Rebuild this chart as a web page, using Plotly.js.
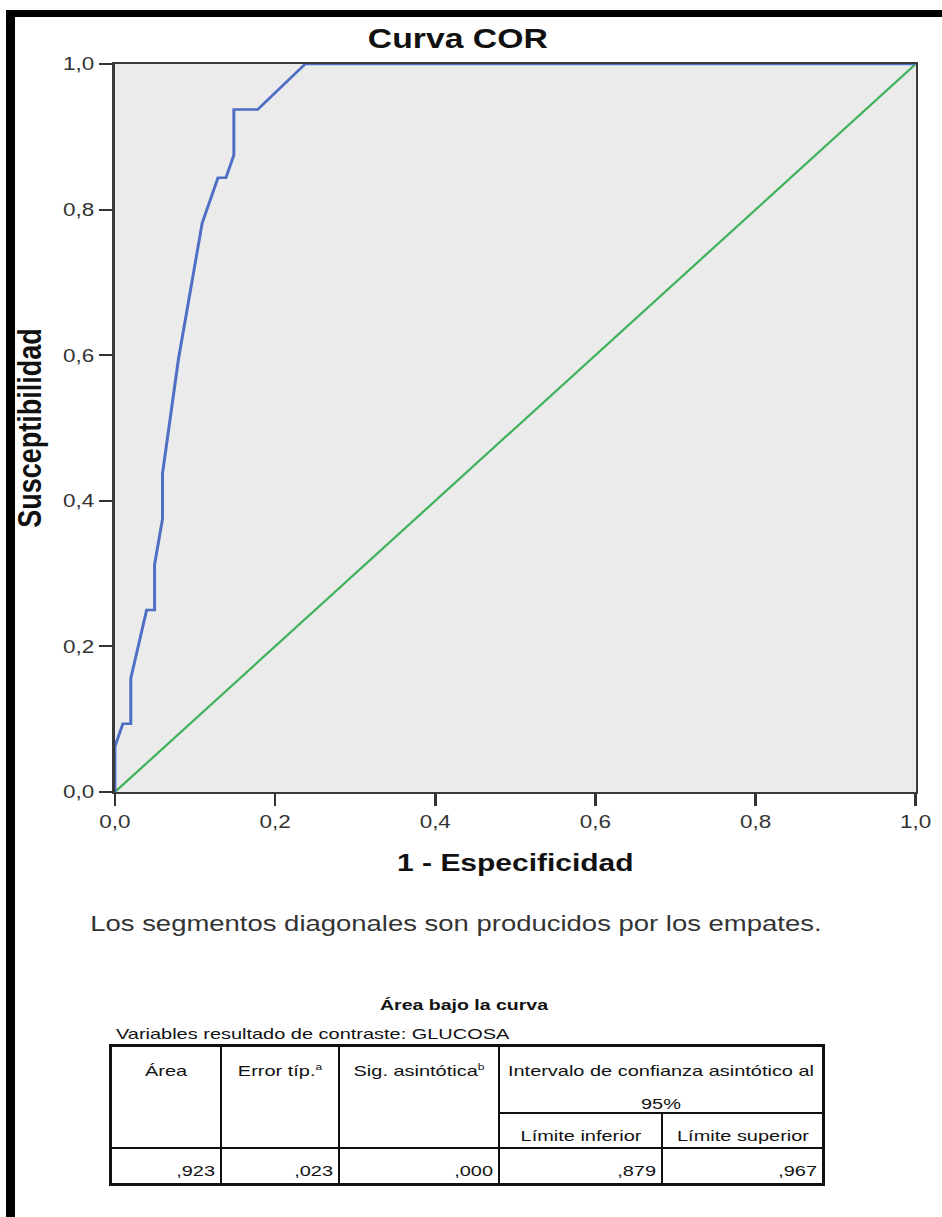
<!DOCTYPE html>
<html>
<head>
<meta charset="utf-8">
<script src="https://cdn.plot.ly/plotly-3.0.1.min.js"></script>
<style>
html,body{margin:0;padding:0;background:#fff;width:942px;height:1217px;overflow:hidden;}
#wrap{position:absolute;left:0;top:0;width:754px;height:1217px;transform:scaleX(1.2493);transform-origin:0 0;}
#chart{width:754px;height:1217px;}
.bar{position:absolute;background:#000;}
.ln{position:absolute;background:#111;}
.tx{position:absolute;white-space:nowrap;font-family:"Liberation Sans",Arial,sans-serif;font-size:15px;color:#111;line-height:1;}
.tx sup{font-size:9px;vertical-align:6px;}
</style>
</head>
<body>
<div id="wrap"><div id="chart"></div></div>
<div id="frameTop" class="bar" style="left:6px;top:10px;width:936px;height:7px;"></div>
<div id="frameLeft" class="bar" style="left:6px;top:10px;width:9px;height:1207px;"></div>
<div id="table"></div>
<script>
// ---------- data ----------
const fpr = [0, 0, 0.0099, 0.0198, 0.0198, 0.0396, 0.0495, 0.0495, 0.0594, 0.0594, 0.0792, 0.1089, 0.1287, 0.1386, 0.1485, 0.1485, 0.1782, 0.2376, 1];
const tpr = [0, 0.0625, 0.09375, 0.09375, 0.15625, 0.25, 0.25, 0.3125, 0.375, 0.4375, 0.59375, 0.78125, 0.84375, 0.84375, 0.875, 0.9375, 0.9375, 1, 1];
const refX = [0, 1];
const refY = [0, 1];
const tickVals = [0, 0.2, 0.4, 0.6, 0.8, 1.0];
const tickText = ['0,0', '0,2', '0,4', '0,6', '0,8', '1,0'];
const chartTitle = 'Curva COR';
const xTitle = '1 - Especificidad';
const yTitle = 'Susceptibilidad';
const noteText = 'Los segmentos diagonales son producidos por los empates.';

const tableTitle = 'Área bajo la curva';
const tableSubtitle = 'Variables resultado de contraste: GLUCOSA';
const headArea = 'Área';
const headErr = 'Error típ.<sup>a</sup>';
const headSig = 'Sig. asintótica<sup>b</sup>';
const headCI = 'Intervalo de confianza asintótico al';
const headCI2 = '95%';
const headLow = 'Límite inferior';
const headUp = 'Límite superior';
const rowValues = [',923', ',023', ',000', ',879', ',967'];

// ---------- chart ----------
const FONT = 'Liberation Sans, Arial, Helvetica, sans-serif';
const traces = [
  {x: refX, y: refY, type: 'scatter', mode: 'lines', line: {color: '#3fb35c', width: 2}, hoverinfo: 'skip'},
  {x: fpr, y: tpr, type: 'scatter', mode: 'lines', line: {color: '#4f6fc4', width: 2.4}, hoverinfo: 'skip'}
];
const axisCommon = {
  range: [0, 1], tickvals: tickVals, ticktext: tickText,
  ticks: 'outside', tickwidth: 2, tickcolor: '#333',
  showline: true, linecolor: '#3a3a3a', linewidth: 2, mirror: true,
  showgrid: false, zeroline: false, fixedrange: true,
  tickfont: {family: FONT, size: 18, color: '#333'}
};
const layout = {
  width: 754, height: 1217,
  margin: {l: 92, r: 21, t: 64, b: 425, pad: 0},
  paper_bgcolor: 'rgba(0,0,0,0)', plot_bgcolor: '#ebebeb',
  showlegend: false,
  font: {family: FONT, color: '#000'},
  title: {text: '<b>' + chartTitle + '</b>', font: {family: FONT, size: 27, color: '#111'},
          xref: 'container', x: 0.486, xanchor: 'center', yref: 'container', y: 1 - 39/1217, yanchor: 'middle'},
  xaxis: Object.assign({}, axisCommon, {ticklen: 12,
          title: {text: '<b>' + xTitle + '</b>', font: {family: FONT, size: 24, color: '#111'}, standoff: 24}}),
  yaxis: Object.assign({}, axisCommon, {ticklen: 11,
          title: {text: '<b>' + yTitle + '</b>', font: {family: FONT, size: 27, color: '#111'}, standoff: 9}}),
  annotations: [{
    text: noteText, xref: 'paper', yref: 'paper', x: (365.4 - 92) / 641, y: (792 - 923) / 728,
    xanchor: 'center', yanchor: 'middle', showarrow: false,
    font: {family: FONT, size: 22, color: '#333'}
  }]
};
Plotly.newPlot('chart', traces, layout, {displayModeBar: false, staticPlot: true});

// ---------- table (screen pixel geometry) ----------
const T = document.getElementById('table');
const colX = [110, 221, 339, 499, 662, 823];
const rowY = [1045, 1113, 1148, 1184];
function line(l, t, w, h) {
  const d = document.createElement('div'); d.className = 'ln';
  d.style.left = l + 'px'; d.style.top = t + 'px'; d.style.width = w + 'px'; d.style.height = h + 'px';
  T.appendChild(d);
}
function text(html, x, y, anchor, k, bold) {
  const s = document.createElement('span'); s.className = 'tx'; s.innerHTML = html;
  s.style.left = x + 'px'; s.style.top = y + 'px';
  if (bold) s.style.fontWeight = 'bold';
  let tr;
  if (anchor === 'center') { s.style.transformOrigin = '50% 50%'; tr = 'translate(-50%,-50%) scaleX(' + k + ')'; }
  else if (anchor === 'right') { s.style.transformOrigin = '100% 50%'; tr = 'translate(-100%,-50%) scaleX(' + k + ')'; }
  else { s.style.transformOrigin = '0 50%'; tr = 'translate(0,-50%) scaleX(' + k + ')'; }
  s.style.transform = tr;
  T.appendChild(s);
}
const K = 1.33;
// outer border
line(colX[0] - 1, rowY[0] - 1, colX[5] - colX[0] + 3, 3);
line(colX[0] - 1, rowY[3] - 1, colX[5] - colX[0] + 3, 3);
line(colX[0] - 1, rowY[0] - 1, 3, rowY[3] - rowY[0] + 3);
line(colX[5] - 1, rowY[0] - 1, 3, rowY[3] - rowY[0] + 3);
// inner verticals
[1, 2, 3].forEach(i => line(colX[i] - 1, rowY[0], 2, rowY[3] - rowY[0]));
line(colX[4] - 1, rowY[1], 2, rowY[3] - rowY[1]);
// inner horizontals
line(colX[3], rowY[1] - 1, colX[5] - colX[3], 2);
line(colX[0], rowY[2] - 1, colX[5] - colX[0], 2);

text(tableTitle, 464, 1004, 'center', 1.3, true);
text(tableSubtitle, 116, 1033, 'left', K, false);
const hy = 1070;
text(headArea, (colX[0] + colX[1]) / 2, hy, 'center', K);
text(headErr, (colX[1] + colX[2]) / 2, hy, 'center', K);
text(headSig, (colX[2] + colX[3]) / 2, hy, 'center', K);
text(headCI, (colX[3] + colX[5]) / 2, hy, 'center', K);
text(headCI2, (colX[3] + colX[5]) / 2, 1103, 'center', K);
text(headLow, (colX[3] + colX[4]) / 2, 1135, 'center', K);
text(headUp, (colX[4] + colX[5]) / 2, 1135, 'center', K);
rowValues.forEach((v, i) => text(v, colX[i + 1] - 6, 1170, 'right', K));
</script>
</body>
</html>
